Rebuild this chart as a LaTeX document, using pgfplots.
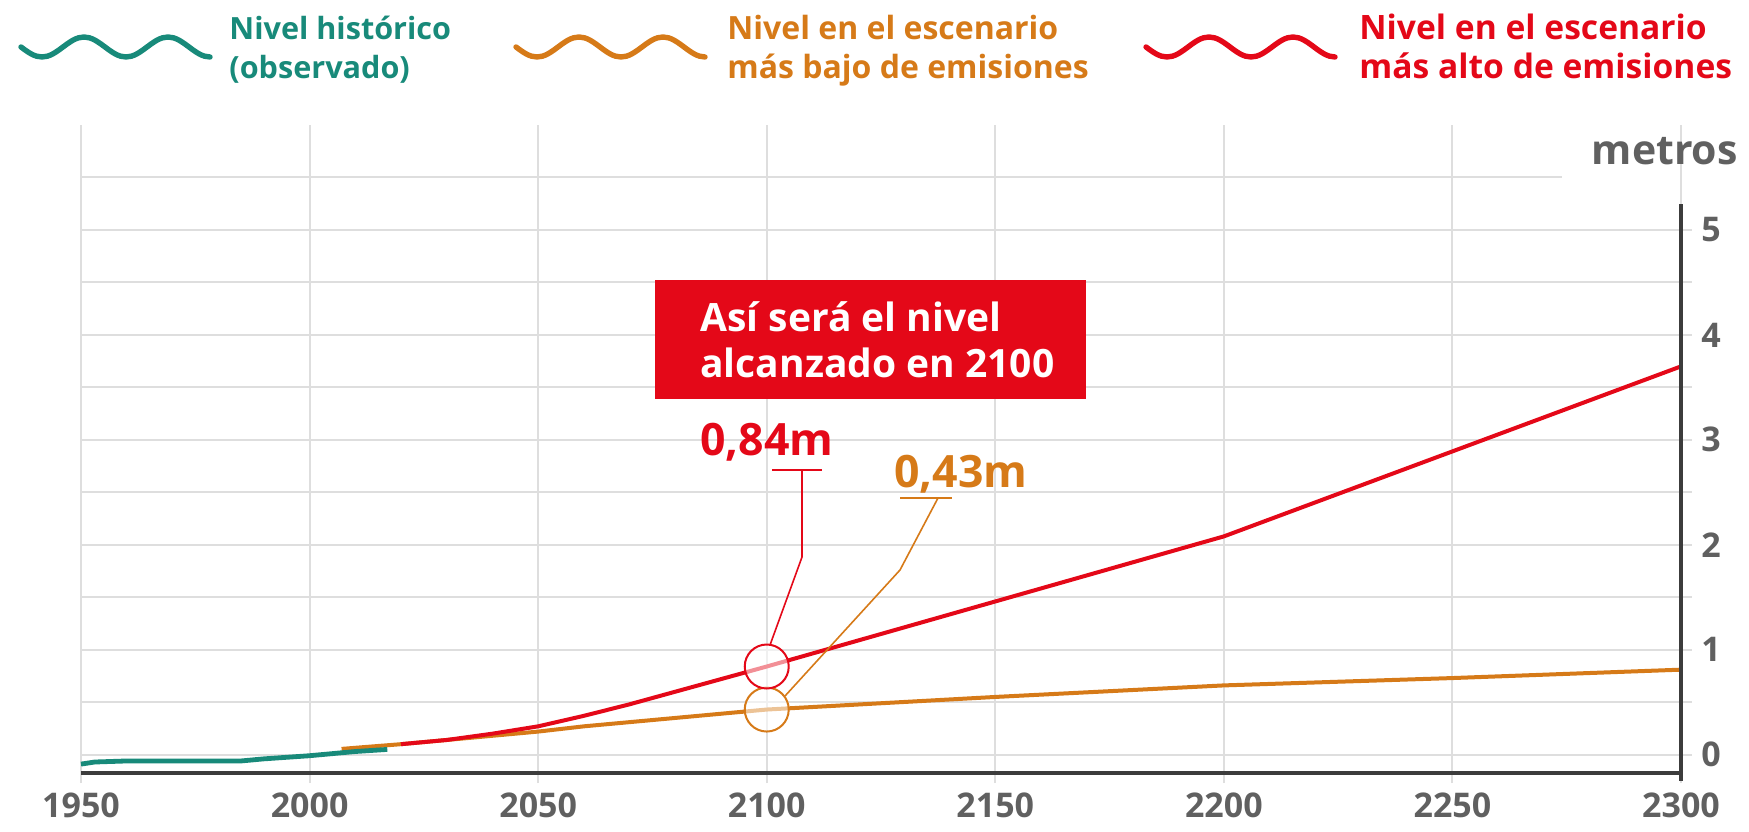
\documentclass[border=0pt]{standalone}
\usepackage{fontspec}
\setmainfont{Open Sans}
\usepackage{pgfplots}
\pgfplotsset{compat=1.18}
\definecolor{cteal}{RGB}{24,138,122}
\definecolor{corange}{RGB}{214,122,24}
\definecolor{cred}{RGB}{228,8,24}
\definecolor{ctick}{RGB}{96,96,96}
\definecolor{cgrid}{RGB}{222,222,222}
\definecolor{caxis}{RGB}{60,60,60}
\newcommand\tickfont{\fontsize{17}{17}\selectfont\bfseries}
\newcommand\valfont{\fontsize{22.3}{22.3}\selectfont\bfseries}
\newcommand\boxfont{\fontsize{19.5}{22}\selectfont\bfseries}
\begin{document}
\begin{tikzpicture}
\useasboundingbox (-40.5pt,-24pt) rectangle (834pt,391.5pt);
\begin{axis}[at={(0pt,0pt)}, anchor=south west, scale only axis,
 width=805.5pt, height=329pt,
 xmin=1950, xmax=2302.4, ymin=-0.27, ymax=6.0, clip=false,
 axis line style={draw=none},
 xtick={1950,2000,2050,2100,2150,2200,2250,2300},
 xticklabels={1950,2000,2050,2100,2150,2200,2250,2300},
 ytick={0,1,2,3,4,5}, yticklabels={0,1,2,3,4,5},
 minor ytick={0.5,1.5,2.5,3.5,4.5},
 major tick length=0pt, minor tick length=0pt,
 xmajorgrids, ymajorgrids, yminorgrids,
 grid style={cgrid, line width=1pt},
 minor grid style={cgrid, line width=1pt},
 yticklabel pos=right,
 xticklabel style={font=\tickfont, text=ctick, anchor=center, inner sep=0pt, yshift=-11pt},
 yticklabel style={font=\tickfont, text=ctick, anchor=west, inner sep=0pt, xshift=4.5pt},
]
\draw[cgrid, line width=1pt] (axis cs:1950,5.5) -- (axis cs:2274,5.5);
% low emissions scenario
\addplot[corange, line width=2pt] coordinates {
 (2007,0.055) (2020,0.10) (2030,0.14) (2040,0.18) (2050,0.22) (2060,0.27)
 (2070,0.31) (2080,0.35) (2090,0.39) (2100,0.43) (2150,0.55) (2200,0.66)
 (2250,0.73) (2300,0.81)};
% high emissions scenario
\addplot[cred, line width=2pt] coordinates {
 (2020,0.10) (2030,0.14) (2040,0.20) (2050,0.27) (2060,0.37) (2070,0.48)
 (2080,0.60) (2090,0.72) (2100,0.84) (2150,1.46) (2200,2.08) (2250,2.89)
 (2300,3.70)};
% historical
\addplot[cteal, line width=2.4pt] coordinates {
 (1950,-0.09) (1953,-0.07) (1960,-0.06) (1970,-0.06) (1985,-0.06)
 (1990,-0.04) (2000,-0.01) (2010,0.03) (2017,0.05)};
\draw[caxis, line width=2pt] (axis cs:1950,-0.171) -- (axis cs:2300,-0.171);
\draw[caxis, line width=2pt] (axis cs:2300,-0.25) -- (axis cs:2300,5.25);
\draw[corange, line width=1pt, fill=white, fill opacity=0.55] (axis cs:2100,0.43) circle[radius=11pt];
\draw[cred, line width=1pt, fill=white, fill opacity=0.55] (axis cs:2100,0.84) circle[radius=11pt];
\end{axis}
\begin{scope}[x=0.5pt,y=-0.5pt,shift={(-40.5pt,391.5pt)}]
% legend waves
\draw[cteal, line width=2.7pt, line cap=round] (21,47) sin (42,57) cos (63,47) sin (84,37) cos (105,47) sin (126,57) cos (147,47) sin (168,37) cos (189,47) sin (210,57);
\draw[corange, line width=2.7pt, line cap=round] (516,47) sin (537,57) cos (558,47) sin (579,37) cos (600,47) sin (621,57) cos (642,47) sin (663,37) cos (684,47) sin (705,57);
\draw[cred, line width=2.7pt, line cap=round] (1146,47) sin (1167,57) cos (1188,47) sin (1209,37) cos (1230,47) sin (1251,57) cos (1272,47) sin (1293,37) cos (1314,47) sin (1335,57);
\node[anchor=base west, inner sep=0pt, text=cteal, font=\fontsize{15.3}{15.3}\selectfont\bfseries] at (229,40) {Nivel histórico};
\node[anchor=base west, inner sep=0pt, text=cteal, font=\fontsize{15.3}{15.3}\selectfont\bfseries] at (229,79) {(observado)};
\node[anchor=base west, inner sep=0pt, text=corange, font=\fontsize{16}{16}\selectfont\bfseries] at (727,40) {Nivel en el escenario};
\node[anchor=base west, inner sep=0pt, text=corange, font=\fontsize{16}{16}\selectfont\bfseries] at (727,79) {más bajo de emisiones};
\node[anchor=base west, inner sep=0pt, text=cred, font=\fontsize{16.8}{16.8}\selectfont\bfseries] at (1359,40) {Nivel en el escenario};
\node[anchor=base west, inner sep=0pt, text=cred, font=\fontsize{16.8}{16.8}\selectfont\bfseries] at (1359,79) {más alto de emisiones};
% unit label
\node[anchor=base east, inner sep=0pt, text=ctick, font=\fontsize{20.5}{20.5}\selectfont\bfseries] at (1738,165) {metros};
% callout box
\fill[cred] (655,280) rectangle (1086,399);
\node[anchor=base west, inner sep=0pt, text=white, font=\boxfont] at (700,332) {Así será el nivel};
\node[anchor=base west, inner sep=0pt, text=white, font=\boxfont] at (700,378) {alcanzado en 2100};
% value labels and leaders
\node[anchor=base west, inner sep=0pt, text=cred, font=\valfont] at (700,455) {0,84m};
\draw[cred, line width=1pt] (772,470) -- (822,470);
\draw[cred, line width=0.8pt] (802,470) -- (802,557) -- (770,645);
\node[anchor=base west, inner sep=0pt, text=corange, font=\valfont] at (894,487) {0,43m};
\draw[corange, line width=1pt] (900,498) -- (952,498);
\draw[corange, line width=0.8pt] (938,498) -- (900,570) -- (785,696);
\end{scope}
\end{tikzpicture}
\end{document}
